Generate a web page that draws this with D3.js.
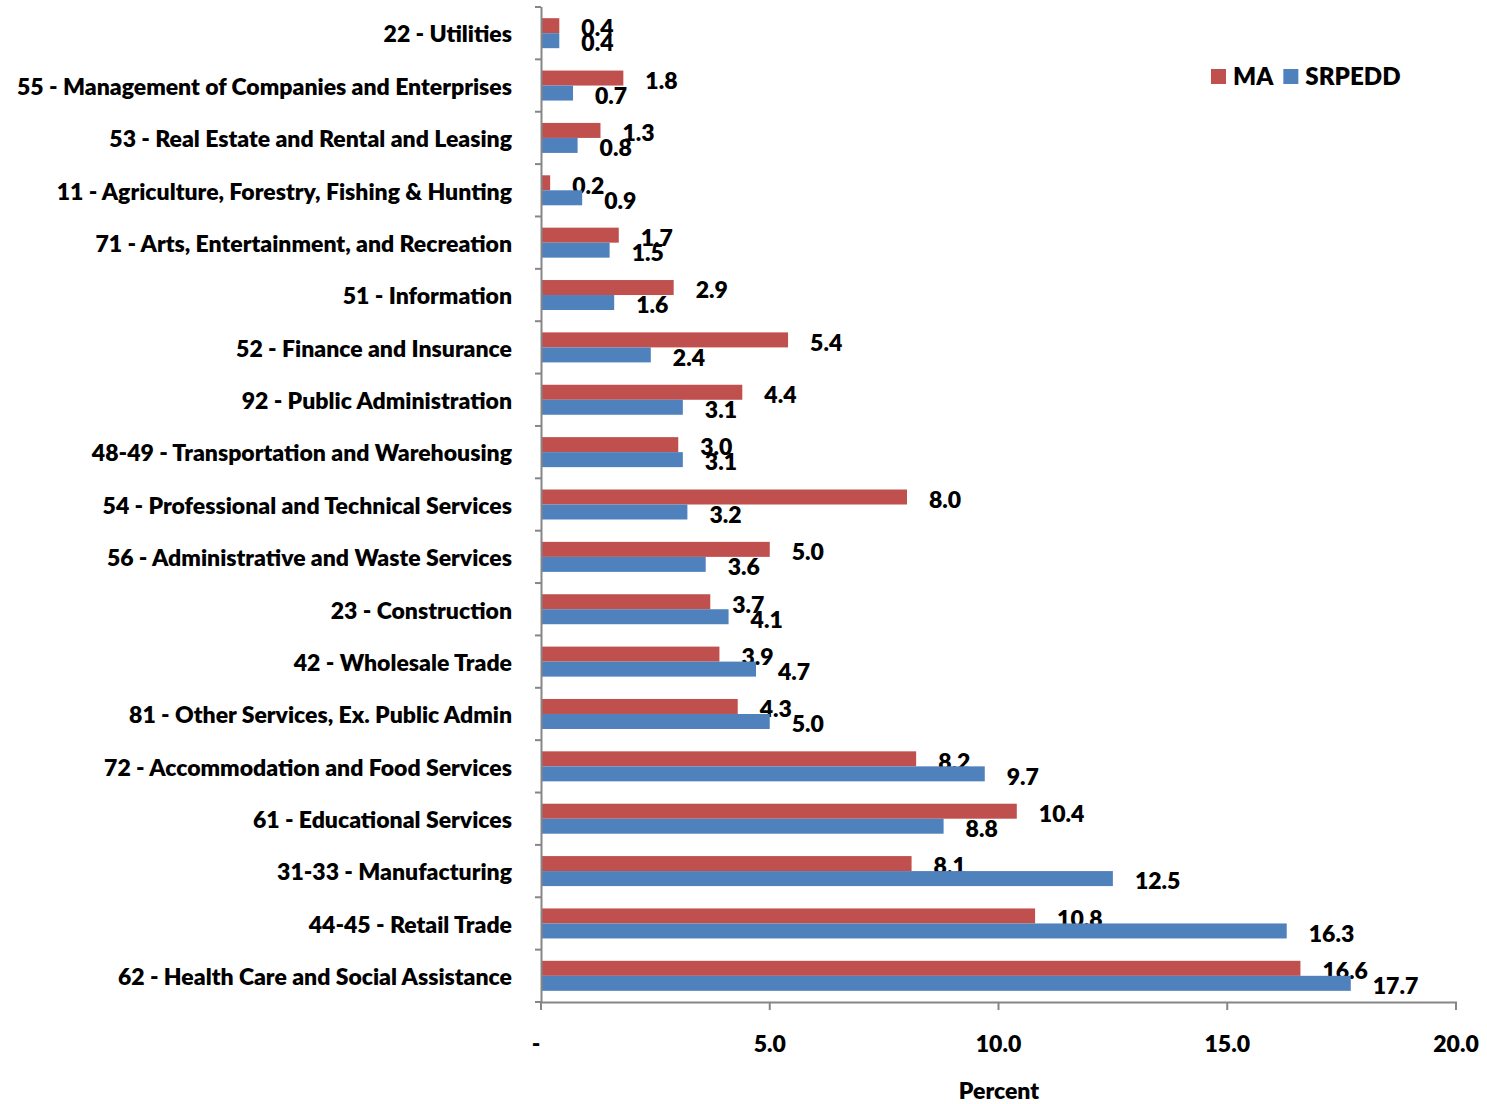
<!DOCTYPE html>
<html><head><meta charset="utf-8">
<script src="https://cdn.jsdelivr.net/npm/d3@7"></script>
<style>body{margin:0;background:#fff}svg{display:block}text{font-family:Lato,"Open Sans",sans-serif;font-weight:800;fill:#000}</style>
</head><body><svg id="c" width="1487" height="1104"></svg>
<script>
const categories = ["22 - Utilities","55 - Management of Companies and Enterprises","53 - Real Estate and Rental and Leasing","11 - Agriculture, Forestry, Fishing & Hunting","71 - Arts, Entertainment, and Recreation","51 - Information","52 - Finance and Insurance","92 - Public Administration","48-49 - Transportation and Warehousing","54 - Professional and Technical Services","56 - Administrative and Waste Services","23 - Construction","42 - Wholesale Trade","81 - Other Services, Ex. Public Admin","72 - Accommodation and Food Services","61 - Educational Services","31-33 - Manufacturing","44-45 - Retail Trade","62 - Health Care and Social Assistance"];
const maValues = [0.4,1.8,1.3,0.2,1.7,2.9,5.4,4.4,3.0,8.0,5.0,3.7,3.9,4.3,8.2,10.4,8.1,10.8,16.6];
const srpeddValues = [0.4,0.7,0.8,0.9,1.5,1.6,2.4,3.1,3.1,3.2,3.6,4.1,4.7,5.0,9.7,8.8,12.5,16.3,17.7];
const seriesNames = ["MA","SRPEDD"];
const seriesColors = ["#C0504D","#4F81BD"];
const xTicks = [0,5,10,15,20];
const xTickLabels = ["-","5.0","10.0","15.0","20.0"];
const xTitle = "Percent";

const svg = d3.select("#c");
const axisColor = "#868686";
const probe = svg.append("text").style("font-size","100px").text(categories[1]);
const w100 = probe.node().getComputedTextLength();
probe.remove();
const fs = Math.min(23, 499 / w100 * 100);

const x = d3.scaleLinear().domain([0,20]).range([541,1456]);
const y = d3.scaleBand().domain(categories).range([7,1002]).paddingInner(0).paddingOuter(0);
const bw = y.bandwidth();
const pOuter = (bw/15 - 2)/2;
const ys = d3.scaleBand().domain(seriesNames).range([0,bw]).paddingInner(0).paddingOuter(pOuter);

const data = categories.map((c,i)=>({c, vals:[maValues[i], srpeddValues[i]]}));

const g = svg.append("g");
data.forEach(d=>{
  seriesNames.forEach((s,j)=>{
    const v = d.vals[j];
    const yy = y(d.c) + ys(s);
    g.append("rect").attr("x",x(0)).attr("y",yy).attr("width",x(v)-x(0)).attr("height",ys.bandwidth())
      .attr("fill",seriesColors[j]);
    g.append("text").attr("x",x(v)+22).attr("y",yy+ys.bandwidth()/2+fs*0.36+2.5)
      .style("font-size",fs+"px").text(v.toFixed(1));
  });
});

svg.append("line").attr("x1",541.5).attr("x2",541.5).attr("y1",7).attr("y2",1003).attr("stroke",axisColor).attr("stroke-width",2);
const bounds = categories.map(c=>y(c)).concat([y.range()[1]]);
bounds.forEach(b=>{
  svg.append("line").attr("x1",535).attr("x2",541).attr("y1",b).attr("y2",b).attr("stroke",axisColor).attr("stroke-width",2);
});
categories.forEach(c=>{
  svg.append("text").attr("x",512).attr("y",y(c)+bw/2+fs*0.36+1).attr("text-anchor","end").style("font-size",fs+"px").text(c);
});

svg.append("line").attr("x1",540.5).attr("x2",1457).attr("y1",1002.5).attr("y2",1002.5).attr("stroke",axisColor).attr("stroke-width",2);
xTicks.forEach((t,i)=>{
  svg.append("line").attr("x1",x(t)).attr("x2",x(t)).attr("y1",1002).attr("y2",1010).attr("stroke",axisColor).attr("stroke-width",2);
  svg.append("text").attr("x", i===0 ? x(t)-5 : x(t)).attr("y",1043+fs*0.36+1).attr("text-anchor","middle").style("font-size",fs+"px").text(xTickLabels[i]);
});
svg.append("text").attr("x",999).attr("y",1092+fs*0.36-1).attr("text-anchor","middle").style("font-size",fs+"px").text(xTitle);

const lfs = fs*1.05;
const leg = svg.append("g");
let lx = 1211;
seriesNames.forEach((s,j)=>{
  leg.append("rect").attr("x",lx).attr("y",69).attr("width",15).attr("height",15).attr("fill",seriesColors[j]);
  const t = leg.append("text").attr("x",lx+22).attr("y",76.5+lfs*0.36).style("font-size",lfs+"px").text(s);
  lx = lx + 22 + t.node().getComputedTextLength() + 10;
});
</script></body></html>
